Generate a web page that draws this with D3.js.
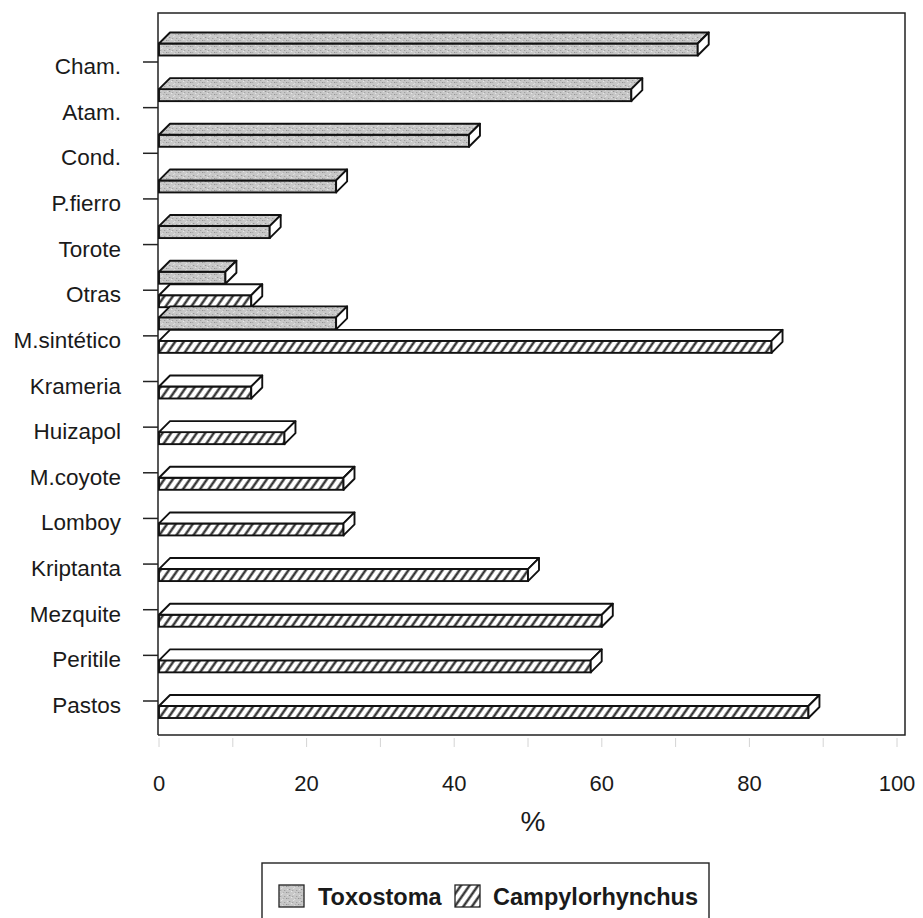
<!DOCTYPE html>
<html>
<head>
<meta charset="utf-8" />
<title>Toxostoma / Campylorhynchus</title>
<script src="https://cdn.jsdelivr.net/npm/d3@7/dist/d3.min.js"></script>
<style>
  body { margin: 0; background: #fff; }
  text { font-family: "Liberation Sans", Arial, Helvetica, sans-serif; fill: #1a1a1a; }
</style>
</head>
<body>
<script>
// datos
var categorias = ['Cham.', 'Atam.', 'Cond.', 'P.fierro', 'Torote', 'Otras', 'M.sintético',
                  'Krameria', 'Huizapol', 'M.coyote', 'Lomboy', 'Kriptanta', 'Mezquite', 'Peritile', 'Pastos'];
var toxostoma      = [73, 64, 42, 24, 15, 9, 24, 0, 0, 0, 0, 0, 0, 0, 0];
var campylorhynchus = [0, 0, 0, 0, 0, 12.5, 83, 12.5, 17, 25, 25, 50, 60, 58.5, 88];
var series = ['Toxostoma', 'Campylorhynchus'];
var xTicks = [0, 20, 40, 60, 80, 100];

var width = 923, height = 918;
var svg = d3.select('body').append('svg').attr('width', width).attr('height', height);

var x = d3.scaleLinear().domain([0, 100]).range([159, 897]);
var y = d3.scalePoint().domain(categorias).range([62, 701]);

var dx = 11, dy = 11, barH = 12;
var frame = { left: 158, top: 13, right: 905, bottom: 735 };

// patrones: gris punteado y rayado
var defs = svg.append('defs');
var gris = defs.append('pattern').attr('id', 'gris').attr('patternUnits', 'userSpaceOnUse')
  .attr('width', 12).attr('height', 6);
gris.append('rect').attr('width', 12).attr('height', 6).attr('fill', '#c8c8c8');
var specks = [[1,1,'#959595'],[5,0,'#e2e2e2'],[8,2,'#a0a0a0'],[3,3,'#e6e6e6'],[10,4,'#949494'],
              [0,4,'#ababab'],[6,5,'#dedede'],[4,2,'#a5a5a5'],[11,1,'#e0e0e0'],[7,4,'#b0b0b0']];
specks.forEach(function(s){
  gris.append('rect').attr('x', s[0]).attr('y', s[1]).attr('width', 1.3).attr('height', 1).attr('fill', s[2]);
});
var raya = defs.append('pattern').attr('id', 'raya').attr('patternUnits', 'userSpaceOnUse')
  .attr('width', 7).attr('height', 7).attr('patternTransform', 'rotate(35)');
raya.append('rect').attr('width', 7).attr('height', 7).attr('fill', '#fff');
raya.append('line').attr('x1', 3.5).attr('x2', 3.5).attr('y1', 0).attr('y2', 7)
  .attr('stroke', '#222').attr('stroke-width', 2.2);

// marco
svg.append('path')
  .attr('d', 'M' + frame.left + ',' + frame.bottom + 'V' + frame.top + 'H' + frame.right + 'V' + frame.bottom + 'H' + frame.left)
  .attr('fill', 'none').attr('stroke', '#222').attr('stroke-width', 1.5);

// eje y: marcas y etiquetas
var yg = svg.append('g');
yg.selectAll('line').data(categorias).enter().append('line')
  .attr('x1', 143).attr('x2', frame.left)
  .attr('y1', function(d){ return y(d); }).attr('y2', function(d){ return y(d); })
  .attr('stroke', '#222').attr('stroke-width', 1.5);
yg.selectAll('text').data(categorias).enter().append('text')
  .attr('x', 121).attr('y', function(d){ return y(d) + 12; })
  .attr('text-anchor', 'end').attr('font-size', '22.5px')
  .text(function(d){ return d; });

// eje x
var xg = svg.append('g');
xg.selectAll('line').data(d3.range(0, 101, 10)).enter().append('line')
  .attr('x1', function(d){ return x(d); }).attr('x2', function(d){ return x(d); })
  .attr('y1', frame.bottom + 3).attr('y2', frame.bottom + 12)
  .attr('stroke', '#d4d4d4').attr('stroke-width', 1);
xg.selectAll('text').data(xTicks).enter().append('text')
  .attr('x', function(d){ return x(d); }).attr('y', 791)
  .attr('text-anchor', 'middle').attr('font-size', '22px')
  .text(function(d){ return d; });
svg.append('text').attr('x', 533).attr('y', 831).attr('text-anchor', 'middle')
  .attr('font-size', '28px').text('%');

// barras 3D
var barras = [];
categorias.forEach(function(c, i){
  barras.push({ cat: c, serie: 0, v: toxostoma[i] });
  barras.push({ cat: c, serie: 1, v: campylorhynchus[i] });
});
barras = barras.filter(function(d){ return d.v > 0; });

function y0(d){ return y(d.cat) + (d.serie === 0 ? -18.5 : 5); }
var bars = svg.append('g').selectAll('g').data(barras).enter().append('g');
bars.append('rect')
  .attr('x', x(0)).attr('y', y0)
  .attr('width', function(d){ return x(d.v) - x(0); }).attr('height', barH)
  .attr('fill', function(d){ return d.serie === 0 ? 'url(#gris)' : 'url(#raya)'; })
  .attr('stroke', '#111').attr('stroke-width', 1.9);
bars.append('path')
  .attr('d', function(d){
    var a = x(0), b = x(d.v), t = y0(d);
    return 'M' + a + ',' + t + 'L' + (a + dx) + ',' + (t - dy) + 'L' + (b + dx) + ',' + (t - dy) + 'L' + b + ',' + t + 'Z';
  })
  .attr('fill', function(d){ return d.serie === 0 ? 'url(#gris)' : '#fff'; })
  .attr('stroke', '#111').attr('stroke-width', 1.9).attr('stroke-linejoin', 'round');
bars.append('path')
  .attr('d', function(d){
    var b = x(d.v), t = y0(d);
    return 'M' + b + ',' + t + 'L' + (b + dx) + ',' + (t - dy) + 'L' + (b + dx) + ',' + (t + barH - dy) + 'L' + b + ',' + (t + barH) + 'Z';
  })
  .attr('fill', '#fff').attr('stroke', '#111').attr('stroke-width', 1.9).attr('stroke-linejoin', 'round');

// leyenda
var leg = svg.append('g');
leg.append('rect').attr('x', 262).attr('y', 863).attr('width', 447).attr('height', 80)
  .attr('fill', '#fff').attr('stroke', '#222').attr('stroke-width', 1.4);
var legX = [279, 455];
var textX = [318, 493];
series.forEach(function(s, i){
  leg.append('rect').attr('x', legX[i]).attr('y', 885).attr('width', 25).attr('height', 22)
    .attr('fill', i === 0 ? 'url(#gris)' : 'url(#raya)').attr('stroke', '#222').attr('stroke-width', 1.3);
  leg.append('text').attr('x', textX[i]).attr('y', 905).attr('font-size', '23.5px')
    .attr('font-weight', 'bold').text(s);
});
</script>
</body>
</html>
